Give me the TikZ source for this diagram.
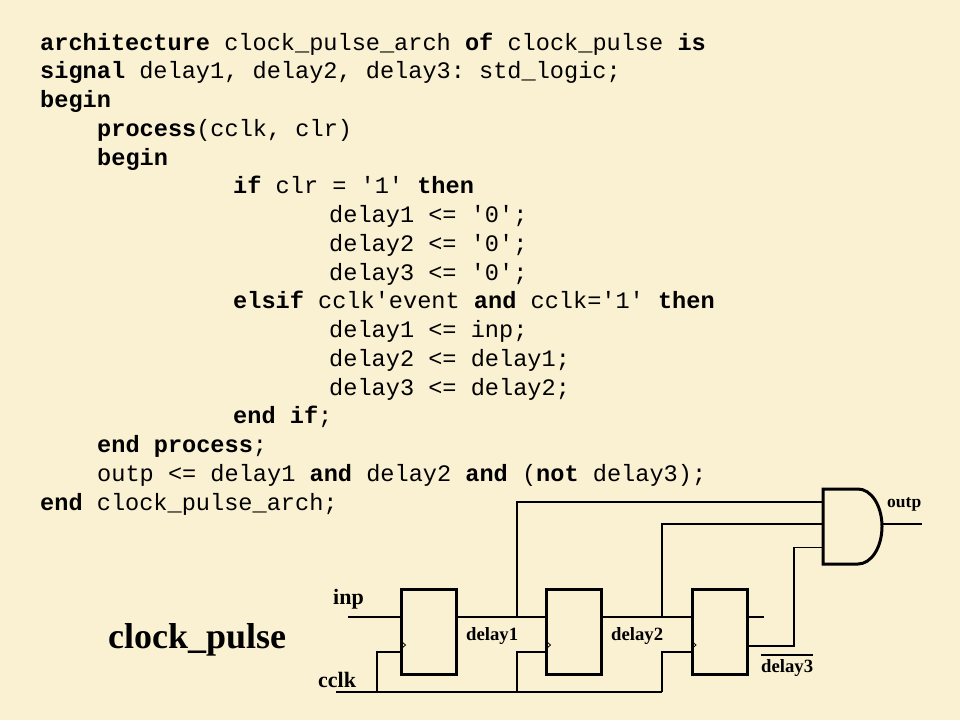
\documentclass[tikz,border=0pt]{standalone}
\usepackage{fontspec}
\setmainfont{Liberation Serif}
\setmonofont{Liberation Mono}
\usepackage{xcolor}
\definecolor{paper}{RGB}{250,240,210}
\tikzset{
  code/.style={anchor=base west,inner sep=0pt,font=\ttfamily\fontsize{23.6}{28}\selectfont},
  lbl/.style={anchor=base west,inner sep=0pt,font=\bfseries\fontsize{22}{24}\selectfont},
  sig/.style={anchor=base west,inner sep=0pt,font=\bfseries\fontsize{18.7}{20}\selectfont},
  dff/.style={draw,line width=3pt,minimum width=55pt,minimum height=85pt,inner sep=0pt},
  wire/.style={line width=1.2pt},
  clk/.style={line width=0.8pt}
}
\begin{document}
\begin{tikzpicture}[x=1pt,y=-1pt]

\fill[paper] (0,0) rectangle (960,720);
\useasboundingbox (0,0) rectangle (960,720);

\node[code] (c1) at (40,50) {\textbf{architecture} clock\_pulse\_arch \textbf{of} clock\_pulse \textbf{is}};
\node[code] (c2) at (40,78.75) {\textbf{signal} delay1, delay2, delay3: std\_logic;};
\node[code] (c3) at (40,107.5) {\textbf{begin}};
\node[code] (c4) at (97,136.25) {\textbf{process}(cclk, clr)};
\node[code] (c5) at (97,165) {\textbf{begin}};
\node[code] (c6) at (233,193.75) {\textbf{if} clr = '1' \textbf{then}};
\node[code] (c7) at (329,222.5) {delay1 <= '0';};
\node[code] (c8) at (329,251.25) {delay2 <= '0';};
\node[code] (c9) at (329,280) {delay3 <= '0';};
\node[code] (c10) at (233,308.75) {\textbf{elsif} cclk'event \textbf{and} cclk='1' \textbf{then}};
\node[code] (c11) at (329,337.5) {delay1 <= inp;};
\node[code] (c12) at (329,366.25) {delay2 <= delay1;};
\node[code] (c13) at (329,395) {delay3 <= delay2;};
\node[code] (c14) at (233,423.75) {\textbf{end if};};
\node[code] (c15) at (97,452.5) {\textbf{end process};};
\node[code] (c16) at (97,481.25) {outp <= delay1 \textbf{and} delay2 \textbf{and} (\textbf{not} delay3);};
\node[code] (c17) at (40,510) {\textbf{end} clock\_pulse\_arch;};

\node[anchor=base west,inner sep=0pt,font=\bfseries\fontsize{36}{40}\selectfont] (title) at (108,648) {clock\_pulse};

\node[dff] (ff1) at (429,632) {};
\node[dff] (ff2) at (574,632) {};
\node[dff] (ff3) at (719.5,632) {};

\node[lbl] (inp) at (333,604) {inp};
\node[lbl] (cclk) at (318,687) {cclk};
\node[sig] (n1) at (466,640) {delay1};
\node[sig] (n2) at (611,640) {delay2};
\node[sig] (n3) at (761,672) {delay3};
\draw[line width=2pt] ([yshift=4pt]n3.north west) -- ([yshift=4pt]n3.north east);
\node[anchor=base west,inner sep=0pt,font=\bfseries\fontsize{17.5}{20}\selectfont] (outp) at (887,507) {outp};

\coordinate (a) at (348,617);
\coordinate (t1) at (517,617);
\coordinate (t2) at (662,617);
\coordinate (q3) at (764,617);
\coordinate (nq) at (794,646);
\coordinate (k0) at (336,692);
\coordinate (k1) at (377,692);
\coordinate (k2) at (517,692);
\coordinate (k3) at (662,692);
\coordinate (g1) at (823,502);
\coordinate (g2) at (823,524);
\coordinate (g3) at (823,547.5);
\coordinate (gout) at (882,524);
\coordinate (out) at (922,524);

% data path
\draw[wire] (a) -- (a -| ff1.west);
\draw[wire] (ff1.east |- a) -- (a -| ff2.west);
\draw[wire] (ff2.east |- a) -- (a -| ff3.west);
\draw[wire] (ff3.east |- a) -- (q3);
\draw[wire] (ff3.east |- nq) -- (nq) -- (nq |- g3) -- (g3);
\draw[wire] (t1) -- (t1 |- g1) -- (g1);
\draw[wire] (t2) -- (t2 |- g2) -- (g2);
\draw[wire] (gout) -- (out);

% clock
\draw[wire] (k0) -- (k3);
\draw[wire] (k1) -- (377,652) -- (ff1.west |- 0,652);
\draw[wire] (k2) -- (517,652) -- (ff2.west |- 0,652);
\draw[wire] (k3) -- (662,652) -- (ff3.west |- 0,652);
\draw[clk] ([xshift=1.5pt,yshift=3.5pt]ff1.west |- 0,652) -- ++(4,-3.5) -- ++(-4,-3.5);
\draw[clk] ([xshift=1.5pt,yshift=3.5pt]ff2.west |- 0,652) -- ++(4,-3.5) -- ++(-4,-3.5);
\draw[clk] ([xshift=1.5pt,yshift=3.5pt]ff3.west |- 0,652) -- ++(4,-3.5) -- ++(-4,-3.5);

% and gate
\draw[line width=3pt] (823,489) -- (858,489) arc[start angle=-90,end angle=90,x radius=24,y radius=37.5] -- (823,564) -- cycle;

\end{tikzpicture}
\end{document}
